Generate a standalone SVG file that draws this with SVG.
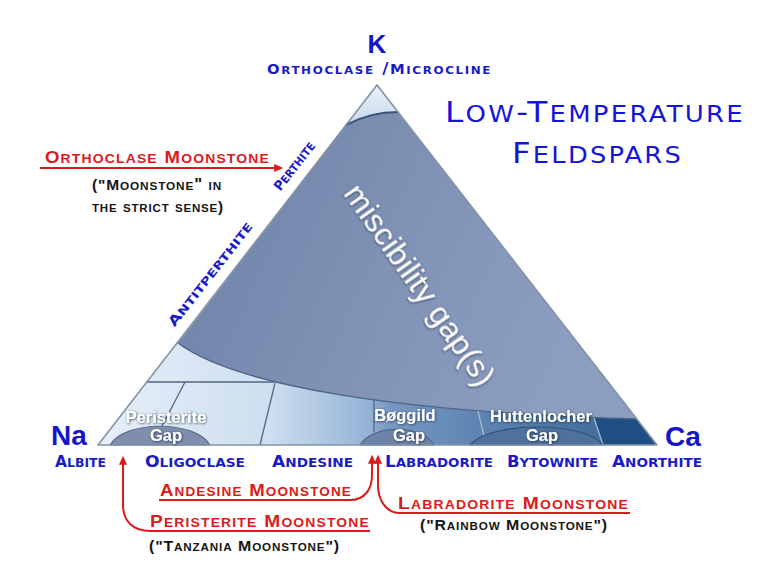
<svg xmlns="http://www.w3.org/2000/svg" width="764" height="569" viewBox="0 0 764 569">
<style>
.blue{fill:#1b1bc6;font-family:"DejaVu Sans",sans-serif;font-variant:small-caps;font-weight:bold}
.ttl{fill:#1515d8;font-family:"DejaVu Sans",sans-serif;font-variant:small-caps;font-weight:normal;font-size:29px;letter-spacing:2px}
.s{font-size:1.15em}
.t{font-size:1.08em}
.big{fill:#1414c8;font-family:"Liberation Sans",Arial,sans-serif;font-weight:bold}
.red{fill:#dc1a1a;font-family:"Liberation Sans",Arial,sans-serif;font-weight:bold;font-variant:small-caps;letter-spacing:1px}
.blk{fill:#151515;font-family:"Liberation Sans",Arial,sans-serif;font-weight:bold;font-variant:small-caps;letter-spacing:0.8px}
.gapt{fill:#ffffff;font-family:"Liberation Sans",Arial,sans-serif;font-weight:bold;font-size:16.5px;text-anchor:middle;filter:url(#sh)}
.con{fill:none;stroke:#dc1a1a;stroke-width:2}
.div{fill:none;stroke:#56667f;stroke-width:1.3}
</style>
<defs>
<linearGradient id="gGap" x1="0" y1="0" x2="1" y2="0.3">
<stop offset="0" stop-color="#6a80a6"/>
<stop offset="0.6" stop-color="#8194b7"/>
<stop offset="1" stop-color="#8c9ec0"/>
</linearGradient>
<linearGradient id="gCap" x1="0" y1="0" x2="0" y2="1">
<stop offset="0" stop-color="#eaf1f9"/>
<stop offset="1" stop-color="#c6d8eb"/>
</linearGradient>
<linearGradient id="gBand" gradientUnits="userSpaceOnUse" x1="100" y1="0" x2="657" y2="0">
<stop offset="0" stop-color="#e6eff9"/>
<stop offset="0.3" stop-color="#cedff0"/>
<stop offset="0.48" stop-color="#95b4d6"/>
<stop offset="0.52" stop-color="#7698c2"/>
<stop offset="0.7" stop-color="#5b82b0"/>
<stop offset="0.88" stop-color="#44709f"/>
</linearGradient>
<marker id="ah" viewBox="0 0 10 10" refX="2" refY="5" markerWidth="10" markerHeight="9" markerUnits="userSpaceOnUse" orient="auto">
<path d="M0,0.5 L10,5 L0,9.5 z" fill="#dc1a1a"/>
</marker>
<filter id="sh" x="-20%" y="-40%" width="140%" height="180%">
<feDropShadow dx="0.6" dy="0.6" stdDeviation="1.3" flood-color="#1e2a45" flood-opacity="0.9"/>
</filter>
</defs>
<rect width="764" height="569" fill="#ffffff"/>

<g id="triangle">
<path id="band" d="M178,343 C235,385 390,412 637,419 L657,445 L98,445 Z" fill="url(#gBand)"/>
<path id="anorthite-field" d="M594,418 L637,419 L657,445 L603,445 Z" fill="#1f4e82"/>
<path id="cap" d="M377,85 L398,112 Q370,112 346,125 Z" fill="url(#gCap)"/>
<path id="miscibility" d="M346,125 Q370,112 398,112 L637,419 C390,412 235,385 178,343 Z" fill="url(#gGap)"/>
<path d="M346,125 Q370,112 398,112" fill="none" stroke="#3f5479" stroke-width="2"/>
<path d="M178,343 C235,385 390,412 637,419" fill="none" stroke="#4e6388" stroke-width="1.5"/>
<path class="div" d="M146.8,382 H274 M185,382 L161,428 M275,383 L260,445 M374,400 V432"/>
<path d="M478,411 L484,436 M594,418 L603,445" fill="none" stroke="#a3b8d2" stroke-width="1.3"/>
<path id="peristerite-dome" d="M110,445 C125,420 195,420 210,445 Z" fill="#7e8fae" stroke="#5d6e8e" stroke-width="1.2"/>
<path id="boggild-dome" d="M360,445 C372,424 422,424 434,445 Z" fill="#6e84a6" stroke="#4f6488" stroke-width="1.2"/>
<path id="huttenlocher-dome" d="M470,445 C490,421 585,421 603,445 Z" fill="#4e719d" stroke="#2f5079" stroke-width="1.2"/>
<path d="M377,85 L657,445 L98,445 Z" fill="none" stroke="#8592a6" stroke-width="1.6" stroke-linejoin="round"/>
</g>

<g id="gap-labels">
<text class="gapt" x="166" y="423">Peristerite</text>
<text class="gapt" x="166" y="441">Gap</text>
<text class="gapt" x="405" y="421">Bøggild</text>
<text class="gapt" x="409" y="441">Gap</text>
<text class="gapt" x="541" y="422">Huttenlocher</text>
<text class="gapt" x="542" y="441">Gap</text>
<text x="0" y="0" transform="translate(411,291) rotate(55)" text-anchor="middle" font-family="Liberation Sans, Arial, sans-serif" font-size="32" fill="#ffffff" filter="url(#sh)" textLength="238">miscibility gap(s)</text>
</g>

<g id="vertex-k">
<text class="big" x="377" y="53" font-size="26" text-anchor="middle">K</text>
<text class="blue" x="267" y="74" font-size="13.7" letter-spacing="1.5" textLength="225" lengthAdjust="spacingAndGlyphs">O<tspan class="s">rthoclase /</tspan>M<tspan class="s">icrocline</tspan></text>
</g>
<g id="title">
<text class="ttl" x="445" y="122" textLength="300" lengthAdjust="spacingAndGlyphs">L<tspan class="s">ow</tspan>-T<tspan class="s">emperature</tspan></text>
<text class="ttl" x="512" y="163" textLength="171" lengthAdjust="spacingAndGlyphs">F<tspan class="s">eldspars</tspan></text>
</g>
<g id="vertex-na">
<text class="big" x="51" y="445" font-size="28">Na</text>
<text class="blue" x="55" y="467" font-size="15" textLength="51" lengthAdjust="spacingAndGlyphs">A<tspan class="s">lbite</tspan></text>
</g>
<g id="vertex-ca">
<text class="big" x="665" y="446" font-size="28">Ca</text>
<text class="blue" x="612" y="467" font-size="15" textLength="90" lengthAdjust="spacingAndGlyphs">A<tspan class="s">northite</tspan></text>
</g>
<g id="series-labels">
<text class="blue" x="145" y="467" font-size="15" textLength="100" lengthAdjust="spacingAndGlyphs">O<tspan class="s">ligoclase</tspan></text>
<text class="blue" x="272" y="467" font-size="15" textLength="81" lengthAdjust="spacingAndGlyphs">A<tspan class="s">ndesine</tspan></text>
<text class="blue" x="385" y="467" font-size="15" textLength="108" lengthAdjust="spacingAndGlyphs">L<tspan class="s">abradorite</tspan></text>
<text class="blue" x="507" y="467" font-size="15" textLength="91" lengthAdjust="spacingAndGlyphs">B<tspan class="s">ytownite</tspan></text>
<text class="blue" transform="translate(298,169) rotate(-52)" x="0" y="0" font-size="13.5" text-anchor="middle" textLength="58" lengthAdjust="spacingAndGlyphs">P<tspan class="s">erthite</tspan></text>
<text class="blue" transform="translate(214,277) rotate(-52)" x="0" y="0" font-size="13.5" text-anchor="middle" textLength="128" lengthAdjust="spacingAndGlyphs">A<tspan class="s">ntitperthite</tspan></text>
</g>

<g id="orthoclase-moonstone">
<text class="red" x="45" y="163" font-size="16" textLength="225" lengthAdjust="spacingAndGlyphs">O<tspan class="t">rthoclase </tspan>M<tspan class="t">oonstone</tspan></text>
<text class="blk" x="92" y="190" font-size="14.5" textLength="130" lengthAdjust="spacingAndGlyphs">("M<tspan class="t">oonstone" in</tspan></text>
<text class="blk" x="92" y="212" font-size="14.5" textLength="132" lengthAdjust="spacingAndGlyphs"><tspan class="t">the strict sense</tspan>)</text>
</g>
<g id="andesine-moonstone">
<text class="red" x="160" y="496" font-size="16.5" textLength="192" lengthAdjust="spacingAndGlyphs">A<tspan class="t">ndesine </tspan>M<tspan class="t">oonstone</tspan></text>
</g>
<g id="peristerite-moonstone">
<text class="red" x="150" y="527" font-size="16.5" textLength="220" lengthAdjust="spacingAndGlyphs">P<tspan class="t">eristerite </tspan>M<tspan class="t">oonstone</tspan></text>
<text class="blk" x="149" y="551" font-size="15" textLength="191" lengthAdjust="spacingAndGlyphs">("T<tspan class="t">anzania </tspan>M<tspan class="t">oonstone</tspan>")</text>
</g>
<g id="labradorite-moonstone">
<text class="red" x="398" y="509" font-size="16.5" textLength="231" lengthAdjust="spacingAndGlyphs">L<tspan class="t">abradorite </tspan>M<tspan class="t">oonstone</tspan></text>
<text class="blk" x="420" y="530" font-size="15" textLength="188" lengthAdjust="spacingAndGlyphs">("R<tspan class="t">ainbow </tspan>M<tspan class="t">oonstone</tspan>")</text>
</g>

<g id="connectors">
<path class="con" d="M40,168 H276" marker-end="url(#ah)"/>
<path class="con" d="M370,531 H150 C133,531 123,521 123,505 V463" marker-end="url(#ah)"/>
<path class="con" d="M159,500 H350 C365,500 372,489 372,475 V462" marker-end="url(#ah)"/>
<path class="con" d="M630,513 H400 C386,513 378,500 378,485 V462" marker-end="url(#ah)"/>
</g>
</svg>
